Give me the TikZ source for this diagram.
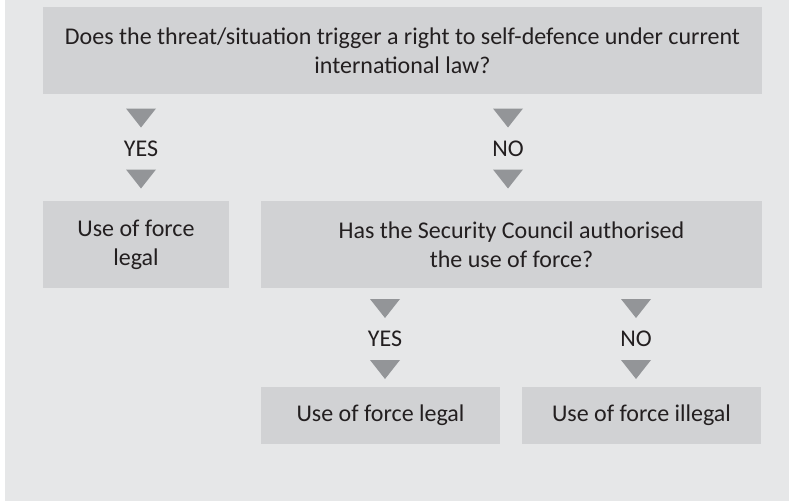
\documentclass[tikz,border=0pt]{standalone}
\usepackage{fontspec}
\setmainfont{Carlito}
\usepackage{tikz}
\usetikzlibrary{positioning}
\usepackage{xcolor}

\definecolor{pagegray}{HTML}{E6E7E8}
\definecolor{boxgray}{HTML}{D1D2D4}
\definecolor{trigray}{HTML}{939598}
\definecolor{inkgray}{HTML}{231F20}

\begin{document}
\begin{tikzpicture}[
  x=1pt, y=-1pt,
  box/.style={fill=boxgray, inner sep=0pt, align=center, text=inkgray,
              font=\fontsize{24}{29}\selectfont, minimum height=87pt},
  smallbox/.style={box, minimum height=57pt, minimum width=239pt},
  ans/.style={text=inkgray, font=\fontsize{24}{29}\selectfont, inner sep=0pt},
  tri/.pic={\fill[trigray] (-15,-9.5) -- (15,-9.5) -- (0,9.5) -- cycle;}
]
  \useasboundingbox (0,0) rectangle (789,501);
  \fill[white] (0,0) rectangle (789,501);
  \fill[pagegray] (5,0) rectangle (789,501);

  % Questions and outcomes
  \node[box, minimum width=719pt] (Q1) at (402.5,50.5)
    {Does the threat/situation trigger a right to self-defence under current\\international law?};
  \node[box, minimum width=186pt] (L1) at (136,244.5) {Use of force\\legal};
  \node[box, minimum width=501pt] (Q2) at (511.5,244.5)
    {Has the Security Council authorised\\the use of force?};
  \node[smallbox] (L2) at (380.5,415.5) {Use of force legal};
  \node[smallbox] (IL) at (641.5,415.5) {Use of force illegal};

  % Answers
  \node[ans] (yes1) at (141,148.5) {YES};
  \node[ans] (no1)  at (508,148.5) {NO};
  \node[ans] (yes2) at (385,339)   {YES};
  \node[ans] (no2)  at (636,339)   {NO};

  % Markers above and below each answer
  \foreach \a in {yes1, no1, yes2, no2} {
    \path (\a) ++(0,-30.5) pic {tri};
    \path (\a) ++(0,30.5)  pic {tri};
  }
\end{tikzpicture}
\end{document}
